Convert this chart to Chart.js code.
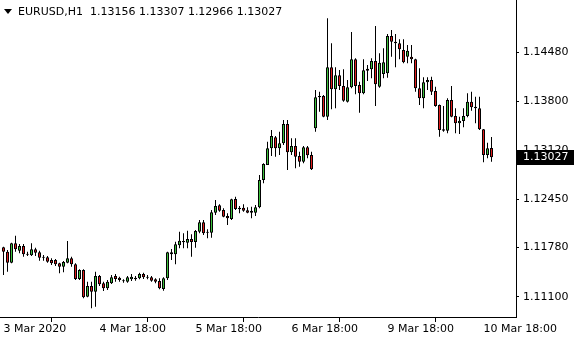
<!DOCTYPE html>
<html>
<head>
<meta charset="utf-8">
<script src="https://cdn.jsdelivr.net/npm/chart.js@4.4.1/dist/chart.umd.min.js"></script>
<style>
html, body { margin: 0; padding: 0; background: #fff; }
canvas { display: block; }
</style>
</head>
<body>
<canvas id="myChart" width="580" height="340"></canvas>
<script>
// EURUSD H1, 3 Mar 18:00 .. 10 Mar 20:00 (one bar per hour)
const symbol = 'EURUSD,H1';

const open = [
  1.11783, 1.11722, 1.11570, 1.11838, 1.11736, 1.11801, 1.11681, 1.11672, 1.11755, 1.11714,
  1.11653, 1.11645, 1.11607, 1.11607, 1.11562, 1.11515, 1.11570, 1.11631, 1.11548, 1.11344,
  1.11469, 1.11100, 1.11248, 1.11169, 1.11386, 1.11285, 1.11216, 1.11285, 1.11386, 1.11362,
  1.11317, 1.11307, 1.11340, 1.11340, 1.11354, 1.11414, 1.11376, 1.11368, 1.11340, 1.11317,
  1.11206, 1.11354, 1.11714, 1.11686, 1.11811, 1.11870, 1.11846, 1.11898, 1.11856, 1.11999,
  1.12129, 1.11994, 1.11985, 1.12261, 1.12364, 1.12299, 1.12216, 1.12174, 1.12451, 1.12331,
  1.12331, 1.12295, 1.12289, 1.12261, 1.12336, 1.12714, 1.12921, 1.13152, 1.13304, 1.13152,
  1.13221, 1.13488, 1.13097, 1.13184, 1.13046, 1.12967, 1.13166, 1.13059, 1.13429, 1.13857,
  1.13875, 1.13589, 1.14272, 1.13968, 1.14162, 1.14014, 1.13797, 1.13996, 1.14383, 1.14028,
  1.13913, 1.14225, 1.14245, 1.14359, 1.14004, 1.14180, 1.14189, 1.14705, 1.14626, 1.14604,
  1.14512, 1.14419, 1.14419, 1.14383, 1.13982, 1.13844, 1.14065, 1.14097, 1.13945, 1.13751,
  1.13415, 1.13395, 1.13820, 1.13599, 1.13498, 1.13530, 1.13599, 1.13797, 1.13727, 1.13705,
  1.13415, 1.13059, 1.13156
];
const high = [
  1.11791, 1.11746, 1.11846, 1.11943, 1.11829, 1.11829, 1.11722, 1.11838, 1.11777, 1.11736,
  1.11676, 1.11663, 1.11631, 1.11621, 1.11570, 1.11593, 1.11870, 1.11653, 1.11562, 1.11479,
  1.11479, 1.11307, 1.11307, 1.11445, 1.11400, 1.11307, 1.11331, 1.11400, 1.11414, 1.11376,
  1.11340, 1.11386, 1.11414, 1.11386, 1.11432, 1.11432, 1.11400, 1.11386, 1.11354, 1.11354,
  1.11368, 1.11722, 1.11759, 1.11860, 1.11999, 1.11977, 1.12012, 1.11963, 1.12022, 1.12160,
  1.12160, 1.12032, 1.12299, 1.12437, 1.12378, 1.12322, 1.12253, 1.12455, 1.12483, 1.12354,
  1.12378, 1.12336, 1.12344, 1.12368, 1.12783, 1.12945, 1.13243, 1.13405, 1.13322, 1.13382,
  1.13543, 1.13543, 1.13290, 1.13290, 1.13105, 1.13184, 1.13184, 1.13105, 1.13958, 1.13935,
  1.13889, 1.14950, 1.14604, 1.14272, 1.14235, 1.14245, 1.14097, 1.14760, 1.14397, 1.14073,
  1.14383, 1.14304, 1.14397, 1.14843, 1.14466, 1.14535, 1.14733, 1.14788, 1.14733, 1.14660,
  1.14660, 1.14581, 1.14581, 1.14392, 1.14258, 1.14134, 1.14134, 1.14142, 1.14004, 1.13758,
  1.13737, 1.13844, 1.14014, 1.13705, 1.13589, 1.13705, 1.13913, 1.13935, 1.13866, 1.13866,
  1.13419, 1.13230, 1.13307
];
const low = [
  1.11400, 1.11445, 1.11562, 1.11722, 1.11700, 1.11653, 1.11663, 1.11663, 1.11663, 1.11598,
  1.11598, 1.11570, 1.11538, 1.11524, 1.11423, 1.11437, 1.11562, 1.11515, 1.11331, 1.11331,
  1.11078, 1.11091, 1.10939, 1.10961, 1.11248, 1.11179, 1.11192, 1.11275, 1.11307, 1.11307,
  1.11293, 1.11293, 1.11317, 1.11321, 1.11340, 1.11344, 1.11340, 1.11307, 1.11285, 1.11202,
  1.11183, 1.11331, 1.11607, 1.11548, 1.11769, 1.11769, 1.11769, 1.11653, 1.11777, 1.11977,
  1.11953, 1.11907, 1.11916, 1.12230, 1.12275, 1.12198, 1.12091, 1.12160, 1.12299, 1.12253,
  1.12275, 1.12253, 1.12184, 1.12216, 1.12322, 1.12668, 1.12921, 1.13046, 1.13036, 1.13059,
  1.13198, 1.12852, 1.13059, 1.12875, 1.12898, 1.12945, 1.13014, 1.12852, 1.13382, 1.13658,
  1.13581, 1.13543, 1.13691, 1.13705, 1.13958, 1.13797, 1.13785, 1.13982, 1.13899, 1.13644,
  1.13899, 1.14083, 1.14120, 1.13737, 1.13990, 1.14120, 1.14128, 1.14419, 1.14272, 1.14383,
  1.14328, 1.14328, 1.14328, 1.13935, 1.13751, 1.13705, 1.13958, 1.13889, 1.13727, 1.13312,
  1.13382, 1.13360, 1.13581, 1.13360, 1.13350, 1.13442, 1.13581, 1.13672, 1.13498, 1.13405,
  1.12958, 1.13014, 1.12966
];
const close = [
  1.11722, 1.11570, 1.11838, 1.11755, 1.11801, 1.11686, 1.11690, 1.11755, 1.11708, 1.11639,
  1.11639, 1.11584, 1.11562, 1.11548, 1.11515, 1.11580, 1.11631, 1.11548, 1.11344, 1.11469,
  1.11091, 1.11248, 1.11169, 1.11386, 1.11271, 1.11216, 1.11307, 1.11368, 1.11344, 1.11331,
  1.11313, 1.11368, 1.11376, 1.11362, 1.11414, 1.11368, 1.11362, 1.11321, 1.11307, 1.11216,
  1.11354, 1.11714, 1.11686, 1.11824, 1.11874, 1.11852, 1.11898, 1.11856, 1.12008, 1.12129,
  1.11977, 1.11985, 1.12267, 1.12354, 1.12289, 1.12206, 1.12184, 1.12447, 1.12313, 1.12308,
  1.12289, 1.12261, 1.12261, 1.12336, 1.12714, 1.12935, 1.13152, 1.13322, 1.13152, 1.13221,
  1.13488, 1.13097, 1.13184, 1.13036, 1.12967, 1.13166, 1.13055, 1.12862, 1.13857, 1.13875,
  1.13589, 1.14272, 1.13968, 1.14162, 1.14014, 1.13810, 1.13996, 1.14383, 1.14014, 1.13913,
  1.14231, 1.14253, 1.14359, 1.14037, 1.14336, 1.14341, 1.14705, 1.14626, 1.14604, 1.14521,
  1.14341, 1.14502, 1.14383, 1.13982, 1.13844, 1.14065, 1.14097, 1.13935, 1.13737, 1.13405,
  1.13395, 1.13820, 1.13589, 1.13498, 1.13534, 1.13599, 1.13797, 1.13719, 1.13705, 1.13415,
  1.13059, 1.13152, 1.13027
];

// axis ticks
const priceTicks = [1.11100, 1.11780, 1.12450, 1.13120, 1.13800, 1.14480];
const timeTickBars = [0, 24, 48, 72, 96, 120];
const timeTickLabels = ['3 Mar 2020', '4 Mar 18:00', '5 Mar 18:00', '6 Mar 18:00', '9 Mar 18:00', '10 Mar 18:00'];

const last = close.length - 1;

let bodies = open.map((o, i) => ({ x: i, y: [o, close[i]] }));
let wicks = low.map((l, i) => ({ x: i, y: [l, high[i]] }));
let bodyColors = open.map((o, i) => close[i] >= o ? '#3cc03c' : '#e01c1c');

Chart.defaults.font.family = '"DejaVu Sans", sans-serif';
Chart.defaults.font.size = 11;
Chart.defaults.color = '#000';

// header line + current price box
const mt4Overlay = {
  id: 'mt4Overlay',
  afterDraw(chart) {
    const c = chart.ctx;
    c.save();
    c.fillStyle = '#000';
    c.beginPath();
    c.moveTo(4, 9);
    c.lineTo(12, 9);
    c.lineTo(8, 14);
    c.closePath();
    c.fill();
    c.font = '11px "DejaVu Sans"';
    c.textBaseline = 'middle';
    let vals = [open[last], high[last], low[last], close[last]].map(v => v.toFixed(5));
    c.fillText(symbol + '  ' + vals.join(' '), 18, 12);

    let y = Math.round(chart.scales.y.getPixelForValue(close[last]));
    c.fillRect(chart.chartArea.right, y - 7, 58, 15);
    c.fillStyle = '#fff';
    c.fillText(close[last].toFixed(5), chart.chartArea.right + 7, y + 0.5);
    c.restore();
  }
};

const ctx = document.getElementById('myChart').getContext('2d');
const myChart = new Chart(ctx, {
  type: 'bar',
  data: {
    datasets: [
      {
        label: 'body',
        data: bodies,
        backgroundColor: bodyColors,
        borderColor: '#000',
        borderWidth: 1,
        borderSkipped: false,
        barThickness: 3,
        minBarLength: 1,
        grouped: false,
        inflateAmount: 0,
        order: 0
      },
      {
        label: 'wick',
        data: wicks,
        backgroundColor: '#000',
        borderWidth: 0,
        barThickness: 1,
        grouped: false,
        inflateAmount: 0,
        order: 1
      }
    ]
  },
  options: {
    responsive: false,
    animation: false,
    devicePixelRatio: 1,
    layout: { padding: 0 },
    plugins: {
      legend: { display: false },
      tooltip: { enabled: false }
    },
    scales: {
      x: {
        type: 'linear',
        min: -0.875,
        max: 128.125,
        offset: false,
        afterBuildTicks: s => { s.ticks = timeTickBars.map(v => ({ value: v })); },
        afterFit: s => { s.height = 23; s.paddingLeft = 0; s.paddingRight = 0; },
        grid: { drawOnChartArea: false, color: '#000', tickLength: 5 },
        border: { display: true, color: '#000' },
        ticks: {
          align: 'start',
          autoSkip: false,
          maxRotation: 0,
          padding: 1,
          callback: v => timeTickLabels[timeTickBars.indexOf(v)]
        }
      },
      y: {
        position: 'right',
        min: 1.10819,
        max: 1.15203,
        afterBuildTicks: s => { s.ticks = priceTicks.map(v => ({ value: v })); },
        afterFit: s => { s.width = 64; s.paddingTop = 0; s.paddingBottom = 0; },
        grid: { drawOnChartArea: false, color: '#000', tickLength: 3 },
        border: { display: true, color: '#000' },
        ticks: {
          crossAlign: 'near',
          padding: 4,
          callback: v => v.toFixed(5)
        }
      }
    }
  },
  plugins: [mt4Overlay]
});
</script>
</body>
</html>
